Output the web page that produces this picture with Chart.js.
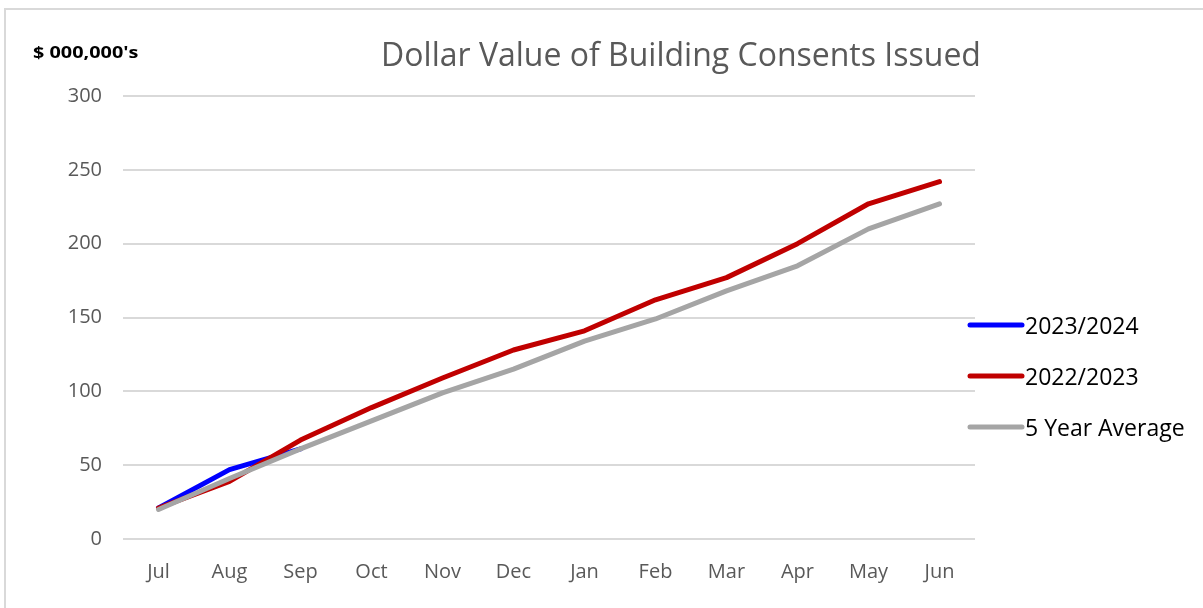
<!DOCTYPE html>
<html>
<head>
<meta charset="utf-8">
<script src="https://cdn.jsdelivr.net/npm/chart.js@4/dist/chart.umd.min.js"></script>
<style>
  html, body { margin: 0; padding: 0; background: #fff; }
  #wrap { position: relative; width: 1203px; height: 608px; }
  canvas { display: block; }
</style>
</head>
<body>
<div id="wrap"><canvas id="c" width="1203" height="608"></canvas></div>
<script>
const months = ["Jul","Aug","Sep","Oct","Nov","Dec","Jan","Feb","Mar","Apr","May","Jun"];
const fy2023_2024 = [21, 47, 61, null, null, null, null, null, null, null, null, null];
const fy2022_2023 = [21, 39, 67, 89, 109, 128, 141, 162, 177, 200, 227, 242];
const fiveYearAvg = [20, 41, 61, 80, 99, 115, 134, 149, 168, 185, 210, 227];
const seriesNames = ["2023/2024", "2022/2023", "5 Year Average"];
const seriesColors = ["#0000FF", "#C00000", "#A5A5A5"];
const chartTitle = "Dollar Value of Building Consents Issued";
const unitLabel = "$ 000,000's";

const FONT = "'Open Sans', Lato, sans-serif";

const decor = {
  id: 'decor',
  beforeDraw(chart) {
    const ctx = chart.ctx;
    ctx.save();
    ctx.fillStyle = '#fff';
    ctx.fillRect(0, 0, chart.width, chart.height);
    ctx.strokeStyle = '#D9D9D9';
    ctx.lineWidth = 2;
    ctx.beginPath();
    ctx.moveTo(5, 612);
    ctx.lineTo(5, 9);
    ctx.lineTo(1210, 9);
    ctx.stroke();
    ctx.restore();
  },
  afterDraw(chart) {
    const ctx = chart.ctx;
    ctx.save();
    ctx.fillStyle = '#595959';
    ctx.font = "32px " + FONT;
    ctx.textAlign = 'center';
    ctx.textBaseline = 'middle';
    ctx.fillText(chartTitle, 681, 57);
    ctx.fillStyle = '#000';
    ctx.font = "bold 16px " + FONT;
    ctx.textAlign = 'left';
    ctx.save();
    ctx.translate(33, 53);
    ctx.scale(1.24, 1);
    ctx.fillText(unitLabel, 0, 0);
    ctx.restore();
    // legend
    const ys = [325, 376, 427];
    chart.data.datasets.forEach((ds, i) => {
      ctx.strokeStyle = ds.borderColor;
      ctx.lineWidth = 5;
      ctx.lineCap = 'round';
      ctx.beginPath();
      ctx.moveTo(970, ys[i]);
      ctx.lineTo(1022, ys[i]);
      ctx.stroke();
      ctx.fillStyle = '#000';
      ctx.font = "23px " + FONT;
      ctx.textAlign = 'left';
      ctx.textBaseline = 'middle';
      ctx.fillText(ds.label, 1025, ys[i] + 2);
    });
    ctx.restore();
  }
};

const mk = (i, data, order) => ({
  label: seriesNames[i],
  data: data,
  borderColor: seriesColors[i],
  backgroundColor: seriesColors[i],
  borderWidth: 5,
  pointRadius: 0,
  tension: 0,
  borderCapStyle: 'round',
  borderJoinStyle: 'round',
  spanGaps: false,
  order: order
});

new Chart(document.getElementById('c'), {
  type: 'line',
  data: {
    labels: months,
    datasets: [
      mk(0, fy2023_2024, 3),
      mk(1, fy2022_2023, 2),
      mk(2, fiveYearAvg, 1)
    ]
  },
  options: {
    responsive: false,
    animation: false,
    devicePixelRatio: 1,
    layout: { padding: { top: 96, right: 228, bottom: 0, left: 0 } },
    plugins: {
      legend: { display: false },
      title: { display: false },
      tooltip: { enabled: false }
    },
    scales: {
      x: {
        offset: true,
        grid: { display: false, drawTicks: false },
        border: { display: false },
        ticks: { color: '#595959', font: { family: FONT, size: 20 }, padding: 21, maxRotation: 0 },
        afterFit(s) { s.height = 69; }
      },
      y: {
        min: 0, max: 300,
        ticks: { stepSize: 50, color: '#595959', font: { family: FONT, size: 20 }, padding: 21 },
        grid: { color: '#D9D9D9', lineWidth: 2, drawTicks: false },
        border: { display: false },
        afterFit(s) { s.width = 123; }
      }
    }
  },
  plugins: [decor]
});
</script>
</body>
</html>
